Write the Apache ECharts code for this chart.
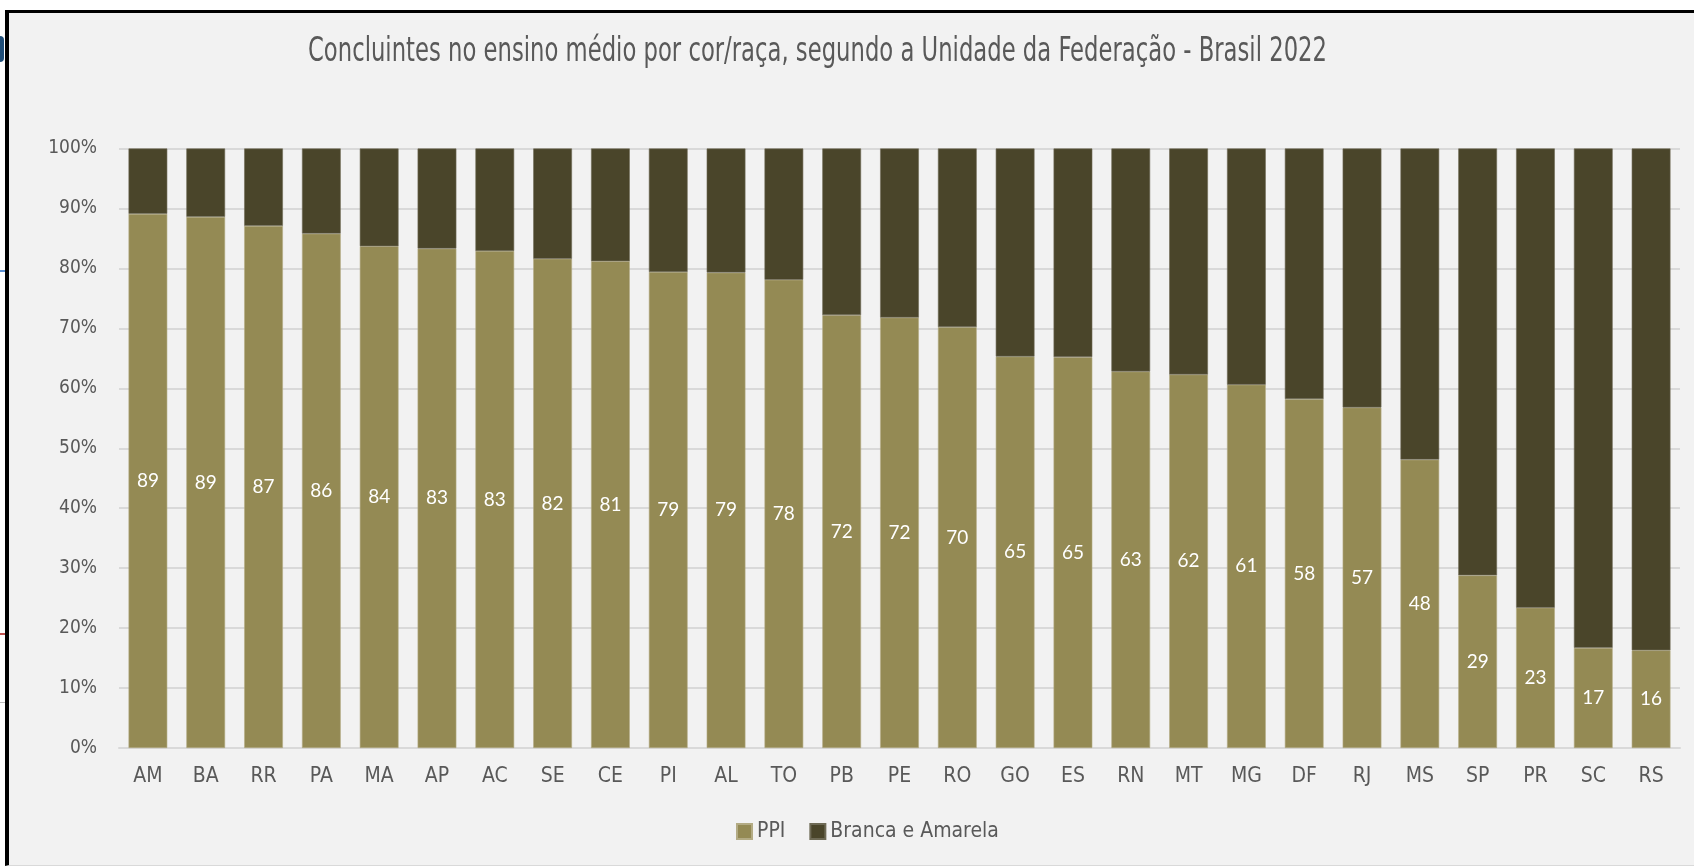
<!DOCTYPE html>
<html>
<head>
<meta charset="utf-8">
<script src="https://cdn.jsdelivr.net/npm/echarts@6/dist/echarts.min.js"></script>
<style>
  html, body { margin: 0; padding: 0; width: 1694px; height: 868px; background: #fff; overflow: hidden; }
  #frame { position: absolute; left: 5px; top: 10px; width: 1689px; height: 856px; background: #f2f2f2;
           border-left: 4px solid #000; border-top: 3px solid #000; border-bottom: 1px solid #d9d9d9; box-sizing: border-box; }
  .mark { position: absolute; left: 0; width: 5px; }
  #main { position: absolute; left: 0; top: 0; width: 1694px; height: 868px; }
</style>
</head>
<body>
<div id="frame"></div>
<div class="mark" style="top:36px;height:26px;background:#1f4e79;border-radius:0 13px 13px 0;width:4px"></div>
<div class="mark" style="top:270px;height:2px;background:#5b8fd0"></div>
<div class="mark" style="top:633px;height:2px;background:#c0504d"></div>
<div class="mark" style="top:702px;height:1px;background:#bbb"></div>
<div id="main"></div>
<script>
// Unidades da Federação (ordenadas pelo % PPI)
var ufs = ['AM', 'BA', 'RR', 'PA', 'MA', 'AP', 'AC', 'SE', 'CE', 'PI', 'AL', 'TO', 'PB', 'PE',
    'RO', 'GO', 'ES', 'RN', 'MT', 'MG', 'DF', 'RJ', 'MS', 'SP', 'PR', 'SC', 'RS'];

// % PPI (pretos, pardos e indígenas)
var ppi = [89.1, 88.6, 87.1, 85.8, 83.7, 83.3, 82.9, 81.6, 81.2, 79.4, 79.3, 78.1, 72.2, 71.8,
    70.2, 65.3, 65.2, 62.8, 62.3, 60.6, 58.2, 56.8, 48.1, 28.8, 23.4, 16.7, 16.3];

// % Branca e Amarela
var branca = [10.9, 11.4, 12.9, 14.2, 16.3, 16.7, 17.1, 18.4, 18.8, 20.6, 20.7, 21.9, 27.8, 28.2,
    29.8, 34.7, 34.8, 37.2, 37.7, 39.4, 41.8, 43.2, 51.9, 71.2, 76.6, 83.3, 83.7];

var titulo = 'Concluintes no ensino médio por cor/raça, segundo a Unidade da Federação - Brasil 2022';

var narrow = '"Liberation Sans Narrow", "Arial Narrow", "DejaVu Sans Condensed", sans-serif';

// largura do título no original ~1019px; fonte condensada disponível é mais larga, então comprime
var ctx = document.createElement('canvas').getContext('2d');
ctx.font = '34px ' + narrow;
var tituloScale = 1019 / ctx.measureText(titulo).width;

var myChart = echarts.init(document.getElementById('main'));

var option = {
    backgroundColor: 'transparent',
    graphic: [{
        type: 'text',
        left: 308,
        top: 35,
        scaleX: tituloScale,
        style: {
            text: titulo,
            font: '34px ' + narrow,
            fill: '#595959'
        }
    }],
    legend: {
        data: ['PPI', 'Branca e Amarela'],
        left: 731,
        top: 816,
        icon: 'rect',
        itemWidth: 15,
        itemHeight: 15,
        itemGap: 24,
        textStyle: {
            fontFamily: narrow,
            fontSize: 21,
            color: '#595959'
        }
    },
    grid: {
        left: 119,
        right: 14,
        top: 148.5,
        bottom: 120
    },
    xAxis: {
        type: 'category',
        data: ufs,
        axisTick: { show: false },
        axisLine: { lineStyle: { color: '#d9d9d9', width: 2 } },
        axisLabel: {
            margin: 18,
            fontFamily: narrow,
            fontSize: 21,
            color: '#595959'
        }
    },
    yAxis: {
        type: 'value',
        min: 0,
        max: 100,
        interval: 10,
        axisLine: { show: false },
        axisTick: { show: false },
        splitLine: { lineStyle: { color: '#d9d9d9', width: 2 } },
        axisLabel: {
            formatter: '{value}%',
            margin: 22,
            fontFamily: narrow,
            fontSize: 19,
            color: '#595959'
        }
    },
    series: [{
        name: 'PPI',
        type: 'bar',
        stack: 'total',
        barCategoryGap: '33%',
        itemStyle: { color: '#948a54', borderColor: '#b3ab84', borderWidth: 0.6 },
        label: {
            show: true,
            position: 'inside',
            color: '#fff',
            fontFamily: 'Lato, "Open Sans", sans-serif',
            fontSize: 19,
            formatter: function (p) {
                return Math.round(p.value);
            }
        },
        data: ppi
    }, {
        name: 'Branca e Amarela',
        type: 'bar',
        stack: 'total',
        itemStyle: { color: '#4a452a', borderColor: '#6e6a55', borderWidth: 0.6 },
        data: branca
    }]
};
myChart.setOption(option);
</script>
</body>
</html>
